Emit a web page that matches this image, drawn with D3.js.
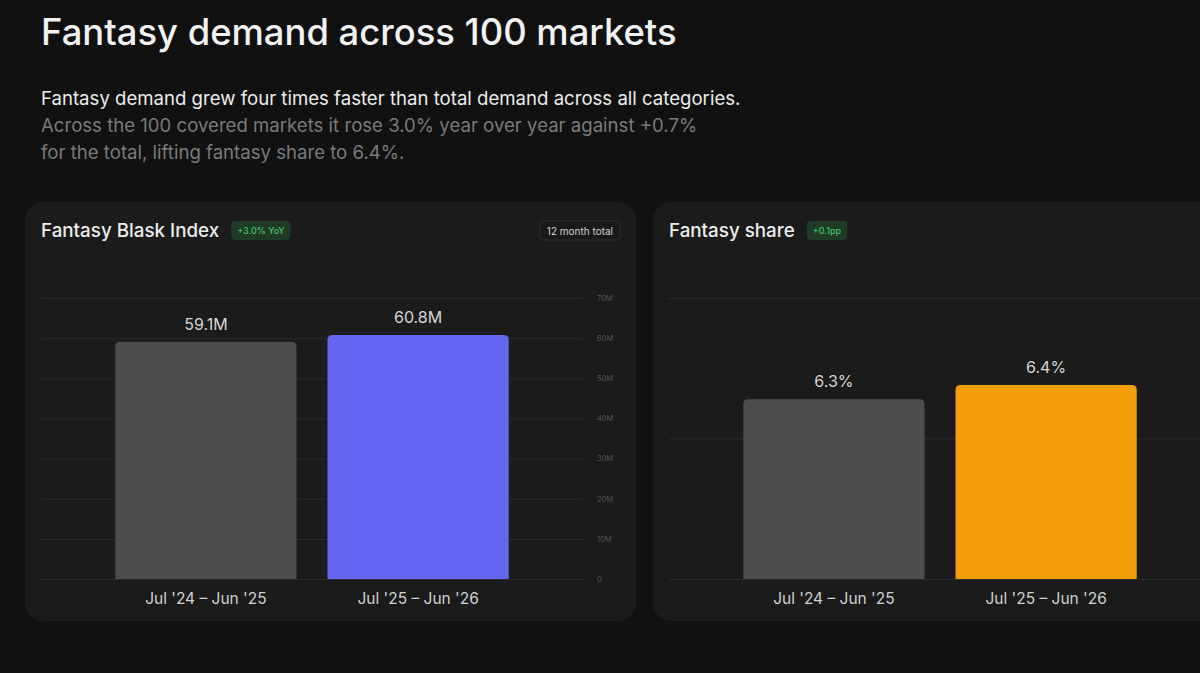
<!DOCTYPE html>
<html>
<head>
<meta charset="utf-8">
<script src="https://cdn.jsdelivr.net/npm/d3@7"></script>
<style>
  body { margin: 0; background: #111111; }
  svg { display: block; font-family: Inter, "Noto Sans", sans-serif; }
</style>
</head>
<body>
<script>
// data
var periods = ["Jul '24 \u2013 Jun '25", "Jul '25 \u2013 Jun '26"];
var indexValues = [59.1, 60.8];        // millions
var shareValues = [6.28, 6.38];        // percent
var indexTicks = [0, 10, 20, 30, 40, 50, 60, 70];
var shareTicks = [5, 6, 7];
var barColorsIndex = ["#4d4d4d", "#6366f1"];
var barColorsShare = ["#4d4d4d", "#f59e0b"];

var W = 1200, H = 673;
var svg = d3.select("body").append("svg").attr("width", W).attr("height", H);
svg.append("rect").attr("width", W).attr("height", H).attr("fill", "#111111");

// headline + intro
svg.append("text").attr("x", 41).attr("y", 45)
  .attr("fill", "#f2f2f2").attr("font-size", 36.4).attr("font-weight", 500)
  .text("Fantasy demand across 100 markets");

var intro = [
  {t: "Fantasy demand grew four times faster than total demand across all categories.", c: "#ececec"},
  {t: "Across the 100 covered markets it rose 3.0% year over year against +0.7%", c: "#7a7a7a"},
  {t: "for the total, lifting fantasy share to 6.4%.", c: "#7a7a7a"}
];
svg.selectAll("text.intro").data(intro).enter().append("text")
  .attr("class", "intro")
  .attr("x", 41).attr("y", function(d, i){ return 105 + i * 27; })
  .attr("fill", function(d){ return d.c; })
  .attr("font-size", 18.6)
  .text(function(d){ return d.t; });

// top-rounded bar path
var barPath = function(x, y, w, h, r){
  r = Math.min(r, h);
  return "M" + x + "," + (y + h) +
    "V" + (y + r) + "Q" + x + "," + y + " " + (x + r) + "," + y +
    "H" + (x + w - r) + "Q" + (x + w) + "," + y + " " + (x + w) + "," + (y + r) +
    "V" + (y + h) + "Z";
};

var drawPanel = function(opt){
  var px = opt.x, py = 202, pw = 611, ph = 419;
  var g = svg.append("g");
  g.append("rect").attr("x", px).attr("y", py).attr("width", pw).attr("height", ph)
    .attr("rx", 18).attr("fill", "#1b1b1b");

  // title
  var title = g.append("text").attr("x", px + 16).attr("y", py + 35)
    .attr("fill", "#ececec").attr("font-size", 18.8).attr("font-weight", 500)
    .text(opt.title);
  var tw = title.node().getComputedTextLength();

  // green change badge
  var bx = px + 16 + tw + 12;
  var bt = g.append("text").attr("x", bx + 6).attr("y", py + 32)
    .attr("fill", "#43c46b").attr("font-size", 9).attr("font-weight", 500)
    .text(opt.badge);
  var bw = bt.node().getComputedTextLength() + 12;
  g.insert("rect", "text:last-child").attr("x", bx).attr("y", py + 19)
    .attr("width", bw).attr("height", 19).attr("rx", 4).attr("fill", "#1f3b27");

  // right badge
  if (opt.note) {
    var nt = g.append("text").attr("x", px + pw - 23).attr("y", py + 32.5)
      .attr("text-anchor", "end").attr("fill", "#d0d0d0").attr("font-size", 10)
      .text(opt.note);
    var nw = nt.node().getComputedTextLength() + 14;
    g.insert("rect", "text:last-child").attr("x", px + pw - 16 - nw).attr("y", py + 19)
      .attr("width", nw).attr("height", 19).attr("rx", 4)
      .attr("fill", "#191919").attr("stroke", "#2e2e2e");
  }

  // scales
  var x = d3.scaleBand().domain(periods).range([px + 16, px + 558])
    .paddingInner(0.146).paddingOuter(0.35);
  var y = d3.scaleLinear().domain(opt.domain).range([579, 298]);

  // grid + tick labels
  var axis = d3.axisRight(y).tickValues(opt.ticks).tickSize(-(x.range()[1] - x.range()[0]))
    .tickPadding(14).tickFormat(opt.tickFormat);
  var ax = g.append("g").attr("transform", "translate(" + (px + 558) + ",0)").call(axis);
  ax.select(".domain").remove();
  ax.selectAll(".tick line").attr("stroke", "#2b2b2b");
  if (opt.showTickLabels) {
    ax.selectAll(".tick text").attr("fill", "#545454").attr("font-size", 7.5)
      .attr("font-family", "Inter, sans-serif");
  } else {
    // labels sit past the right edge of the frame in the picture
    ax.selectAll(".tick text").remove();
  }

  // bars
  g.selectAll("path.bar").data(opt.values).enter().append("path")
    .attr("class", "bar")
    .attr("d", function(d, i){
      var top = y(d);
      return barPath(x(periods[i]), top, x.bandwidth(), y(opt.domain[0]) - top, 5);
    })
    .attr("fill", function(d, i){ return opt.colors[i]; });

  // value labels
  g.selectAll("text.val").data(opt.values).enter().append("text")
    .attr("class", "val")
    .attr("x", function(d, i){ return x(periods[i]) + x.bandwidth() / 2; })
    .attr("y", function(d){ return y(d) - 12; })
    .attr("text-anchor", "middle").attr("fill", "#d6d6d6").attr("font-size", 16)
    .text(opt.valueFormat);

  // category labels
  g.selectAll("text.cat").data(periods).enter().append("text")
    .attr("class", "cat")
    .attr("x", function(d){ return x(d) + x.bandwidth() / 2; })
    .attr("y", 603.5)
    .attr("text-anchor", "middle").attr("fill", "#d0d0d0").attr("font-size", 15.5)
    .text(function(d){ return d; });
};

drawPanel({
  x: 25, title: "Fantasy Blask Index", badge: "+3.0% YoY", note: "12 month total",
  values: indexValues, domain: [0, 70], ticks: indexTicks, colors: barColorsIndex,
  showTickLabels: true,
  tickFormat: function(d){ return d === 0 ? "0" : d + "M"; },
  valueFormat: function(d){ return d.toFixed(1) + "M"; }
});

drawPanel({
  x: 653, title: "Fantasy share", badge: "+0.1pp", note: null,
  values: shareValues, domain: [5, 7], ticks: shareTicks, colors: barColorsShare,
  showTickLabels: false,
  tickFormat: function(d){ return d + "%"; },
  valueFormat: function(d){ return d.toFixed(1) + "%"; }
});
</script>
</body>
</html>
